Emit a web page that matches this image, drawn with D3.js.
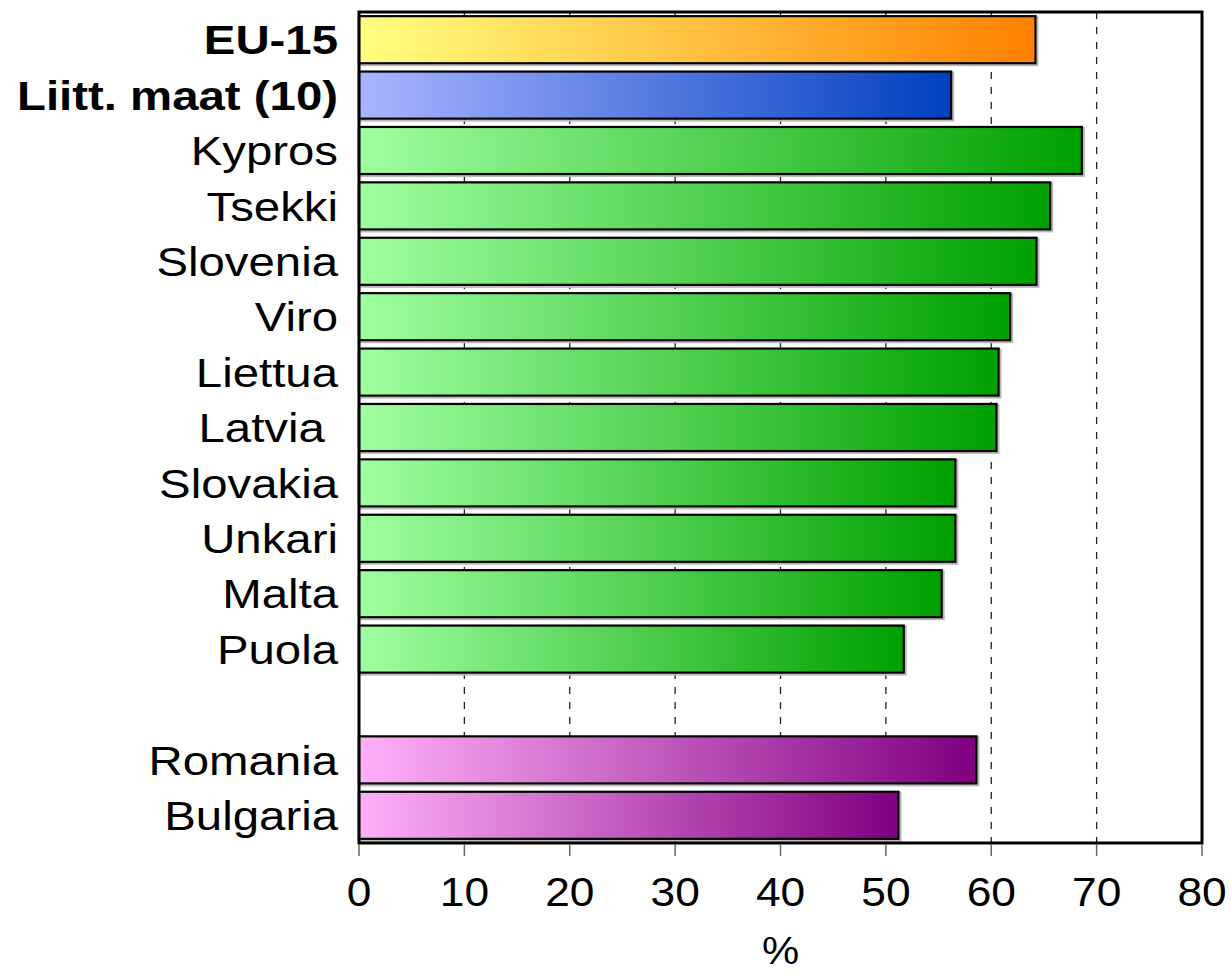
<!DOCTYPE html>
<html><head><meta charset="utf-8">
<script src="https://cdn.jsdelivr.net/npm/d3@7"></script>
<style>body{margin:0;background:#fff}</style>
</head><body>
<svg id="c" width="1231" height="976"></svg>
<script>
const categories = ["EU-15","Liitt. maat (10)","Kypros","Tsekki","Slovenia","Viro","Liettua","Latvia\u00a0","Slovakia","Unkari","Malta","Puola","","Romania","Bulgaria"];
const values = [64.2,56.2,68.6,65.6,64.3,61.8,60.7,60.5,56.6,56.6,55.3,51.7,null,58.6,51.2];
const groups = ["eu","acc","c","c","c","c","c","c","c","c","c","c","","cand","cand"];
const boldCats = ["EU-15","Liitt. maat (10)"];
const xTicks = [0,10,20,30,40,50,60,70,80];
const axisTitle = "%";

const gradDefs = {eu:["#ffff80","#ff8000"],acc:["#aab4ff","#0040c0"],c:["#a0ffa0","#00a000"],cand:["#ffb0f8","#800080"]};

const svg = d3.select("#c");
const L=359,R=1202,T=12,B=843;
const x = d3.scaleLinear().domain([0,80]).range([L,R]);
const y = d3.scaleBand().domain(d3.range(categories.length)).range([T,B]).paddingInner(0.15).paddingOuter(0.075);

const defs = svg.append("defs");
Object.entries(gradDefs).forEach(([k,c])=>{
  const g=defs.append("linearGradient").attr("id","g_"+k).attr("x1","0").attr("x2","1").attr("y1","0").attr("y2","0");
  g.append("stop").attr("offset","0").attr("stop-color",c[0]);
  g.append("stop").attr("offset","1").attr("stop-color",c[1]);
});

// gridlines
svg.append("g").selectAll("line").data(xTicks.filter(d=>d>0&&d<80)).join("line")
  .attr("x1",d=>x(d)).attr("x2",d=>x(d)).attr("y1",T).attr("y2",B)
  .attr("stroke","#222").attr("stroke-width",1.3).attr("stroke-dasharray","7,8");

const idx = d3.range(categories.length).filter(i=>values[i]!=null);
// shadows
svg.append("g").selectAll("rect").data(idx).join("rect")
  .attr("x",L+1).attr("y",i=>y(i)+1).attr("width",i=>x(values[i])-L+1).attr("height",y.bandwidth()+1)
  .attr("fill","none").attr("stroke","#bbb").attr("stroke-width",2);
svg.append("g").selectAll("rect").data(idx).join("rect")
  .attr("x",L).attr("y",i=>y(i)).attr("width",i=>x(values[i])-L).attr("height",y.bandwidth())
  .attr("fill",i=>"url(#g_"+groups[i]+")").attr("stroke","#000").attr("stroke-width",2.2);

// frame
svg.append("rect").attr("x",L).attr("y",T).attr("width",R-L).attr("height",B-T)
  .attr("fill","none").attr("stroke","#000").attr("stroke-width",3);

// x axis ticks
const ax = svg.append("g").attr("transform",`translate(0,${B+1})`)
  .call(d3.axisBottom(x).tickValues(xTicks).tickSize(12).tickPadding(16).tickFormat(d3.format("d")));
ax.select(".domain").remove();
ax.selectAll(".tick line").attr("stroke","#666").attr("stroke-width",1.5);
ax.selectAll(".tick text").attr("font-family","'Liberation Sans', Arial, sans-serif").attr("font-size",41).attr("fill","#000")
  .attr("dy",null).attr("y",62);
ax.selectAll(".tick").each(function(d){
  d3.select(this).attr("transform",`translate(${x(d)},0)`).select("text").attr("transform","scale(1.08,1)");
});

// category labels
svg.append("g").selectAll("text").data(d3.range(categories.length)).join("text")
  .attr("transform",i=>`translate(338,${y(i)+y.bandwidth()/2}) scale(1.155,1)`)
  .attr("text-anchor","end").attr("dy","0.36em")
  .attr("font-family","'Liberation Sans', Arial, sans-serif").attr("font-size",41)
  .attr("font-weight",i=>boldCats.includes(categories[i])?"bold":"normal")
  .text(i=>categories[i]);

svg.append("text").attr("transform",`translate(${(L+R)/2},964) scale(1.1,1)`).attr("text-anchor","middle")
  .attr("font-family","'Liberation Sans', Arial, sans-serif").attr("font-size",38).text(axisTitle);
</script>
</body></html>
